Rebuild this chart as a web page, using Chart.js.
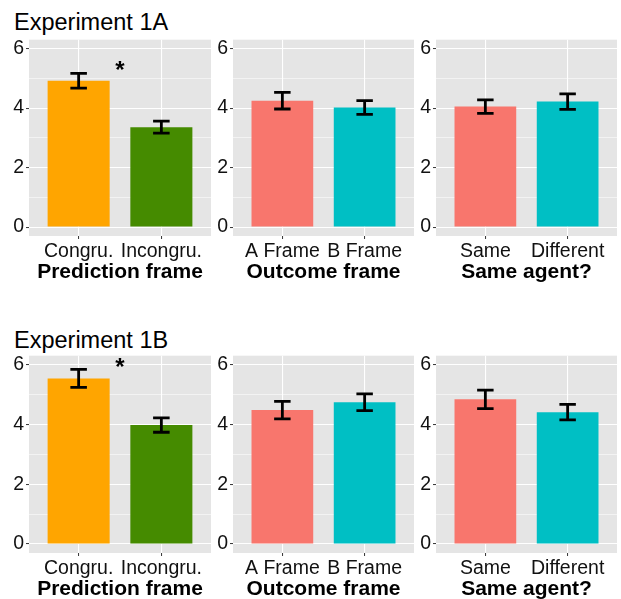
<!DOCTYPE html>
<html>
<head>
<meta charset="utf-8">
<script src="https://cdn.jsdelivr.net/npm/chart.js@4.4.1/dist/chart.umd.min.js"></script>
<style>
  body { margin: 0; background: #fff; }
  #wrap { position: relative; width: 621px; height: 599px; overflow: hidden; background: #fff; }
  #wrap canvas { position: absolute; }
  .exp { position: absolute; left: 14px; font: 23.5px "Liberation Sans", Arial, sans-serif; line-height: 23px; color: #000; }
</style>
</head>
<body>
<div id="wrap">
  <div class="exp" style="top:11px">Experiment 1A</div>
  <div class="exp" style="top:329px">Experiment 1B</div>
  <canvas id="a1" width="211" height="259" style="left:0px;top:26px"></canvas>
  <canvas id="a2" width="210" height="259" style="left:204px;top:26px"></canvas>
  <canvas id="a3" width="210" height="259" style="left:407px;top:26px"></canvas>
  <canvas id="b1" width="211" height="260" style="left:0px;top:342px"></canvas>
  <canvas id="b2" width="210" height="260" style="left:204px;top:342px"></canvas>
  <canvas id="b3" width="210" height="260" style="left:407px;top:342px"></canvas>
</div>
<script>
// categories
const predLabels = ["Congru.", "Incongru."];
const outcomeLabels = ["A Frame", "B Frame"];
const agentLabels = ["Same", "Different"];

// Experiment 1A means and error bar half-widths
const predA = [4.92, 3.36];
const predAErr = [0.25, 0.2];
const outcomeA = [4.25, 4.02];
const outcomeAErr = [0.28, 0.23];
const agentA = [4.05, 4.22];
const agentAErr = [0.23, 0.26];

// Experiment 1B
const predB = [5.54, 3.98];
const predBErr = [0.3, 0.24];
const outcomeB = [4.48, 4.74];
const outcomeBErr = [0.29, 0.28];
const agentB = [4.84, 4.41];
const agentBErr = [0.31, 0.26];

// significance star (x between bars, y value)
const starA = [1.5, 5.47];
const starB = [1.5, 6.12];

const yTicks = [0, 1, 2, 3, 4, 5, 6];

const predColors = ["#FFA500", "#458B00"];
const pairColors = ["#F8766D", "#00BFC4"];

const FONT = "'Liberation Sans', Arial, sans-serif";

// grey panel background
const panelBg = {
  id: "panelBg",
  beforeDraw(chart) {
    const a = chart.chartArea;
    const ctx = chart.ctx;
    ctx.save();
    ctx.fillStyle = "#E5E5E5";
    ctx.fillRect(a.left, a.top, a.right - a.left, a.bottom - a.top);
    ctx.restore();
  },
};

// error bars + star
const errbars = {
  id: "errbars",
  afterDatasetsDraw(chart, args, opts) {
    const ctx = chart.ctx;
    const xs = chart.scales.x;
    const ys = chart.scales.y;
    const vals = chart.data.datasets[0].data;
    ctx.save();
    ctx.strokeStyle = "#000";
    ctx.lineWidth = 2.8;
    vals.forEach((p, i) => {
      const e = opts.errs[i];
      const x = xs.getPixelForValue(p.x);
      const x0 = xs.getPixelForValue(p.x - 0.1);
      const x1 = xs.getPixelForValue(p.x + 0.1);
      const yt = ys.getPixelForValue(p.y + e);
      const yb = ys.getPixelForValue(p.y - e);
      ctx.beginPath();
      ctx.moveTo(x, yt);
      ctx.lineTo(x, yb);
      ctx.moveTo(x0, yt);
      ctx.lineTo(x1, yt);
      ctx.moveTo(x0, yb);
      ctx.lineTo(x1, yb);
      ctx.stroke();
    });
    if (opts.star) {
      const size = 24;
      ctx.fillStyle = "#000";
      ctx.font = "bold " + size + "px " + FONT;
      ctx.textAlign = "center";
      ctx.textBaseline = "alphabetic";
      ctx.fillText("*", xs.getPixelForValue(opts.star[0]), ys.getPixelForValue(opts.star[1]) + 0.57 * size);
    }
    ctx.restore();
  },
};

function makePanel(id, labels, values, errs, colors, title, star) {
  return new Chart(document.getElementById(id), {
    type: "bar",
    data: {
      datasets: [
        {
          data: values.map((v, i) => ({ x: i + 1, y: v })),
          backgroundColor: colors,
          barPercentage: 1,
          categoryPercentage: 0.75,
        },
      ],
    },
    options: {
      responsive: false,
      animation: false,
      devicePixelRatio: 1,
      layout: { padding: { top: 12, left: 0, right: 0, bottom: 0 } },
      scales: {
        x: {
          type: "linear",
          min: 0.4,
          max: 2.6,
          offset: false,
          afterBuildTicks: (s) => { s.ticks = labels.map((l, i) => ({ value: i + 1 })); },
          afterFit: (s) => { s.height = 49; },
          border: { display: false },
          grid: { offset: false, color: "#FFFFFF", lineWidth: 1.1, tickColor: "#333333", tickLength: 3, tickWidth: 1 },
          ticks: {
            padding: 1,
            maxRotation: 0,
            autoSkip: false,
            color: "#111",
            font: { family: FONT, size: 19.5 },
            callback: (v, i) => labels[i],
          },
          title: {
            display: true,
            text: title,
            color: "#000",
            padding: 0,
            font: { family: FONT, size: 21, weight: "bold" },
          },
        },
        y: {
          min: -0.3,
          max: 6.3,
          afterBuildTicks: (s) => { s.ticks = yTicks.map((v) => ({ value: v })); },
          afterFit: (s) => { s.width = 29; },
          border: { display: false },
          grid: {
            color: "#FFFFFF",
            lineWidth: (c) => (c.tick && c.tick.value % 2 === 0 ? 1.1 : 0.55),
            tickColor: (c) => (c.tick && c.tick.value % 2 === 0 ? "#333333" : "rgba(0,0,0,0)"),
            tickLength: 3,
            tickWidth: 1,
          },
          ticks: {
            padding: 2,
            color: "#111",
            font: { family: FONT, size: 19.5 },
            callback: (v) => (v % 2 === 0 ? v : ""),
          },
        },
      },
      plugins: {
        legend: { display: false },
        tooltip: { enabled: false },
        errbars: { errs: errs, star: star },
      },
    },
    plugins: [panelBg, errbars],
  });
}

makePanel("a1", predLabels, predA, predAErr, predColors, "Prediction frame", starA);
makePanel("a2", outcomeLabels, outcomeA, outcomeAErr, pairColors, "Outcome frame", null);
makePanel("a3", agentLabels, agentA, agentAErr, pairColors, "Same agent?", null);
makePanel("b1", predLabels, predB, predBErr, predColors, "Prediction frame", starB);
makePanel("b2", outcomeLabels, outcomeB, outcomeBErr, pairColors, "Outcome frame", null);
makePanel("b3", agentLabels, agentB, agentBErr, pairColors, "Same agent?", null);
</script>
</body>
</html>
